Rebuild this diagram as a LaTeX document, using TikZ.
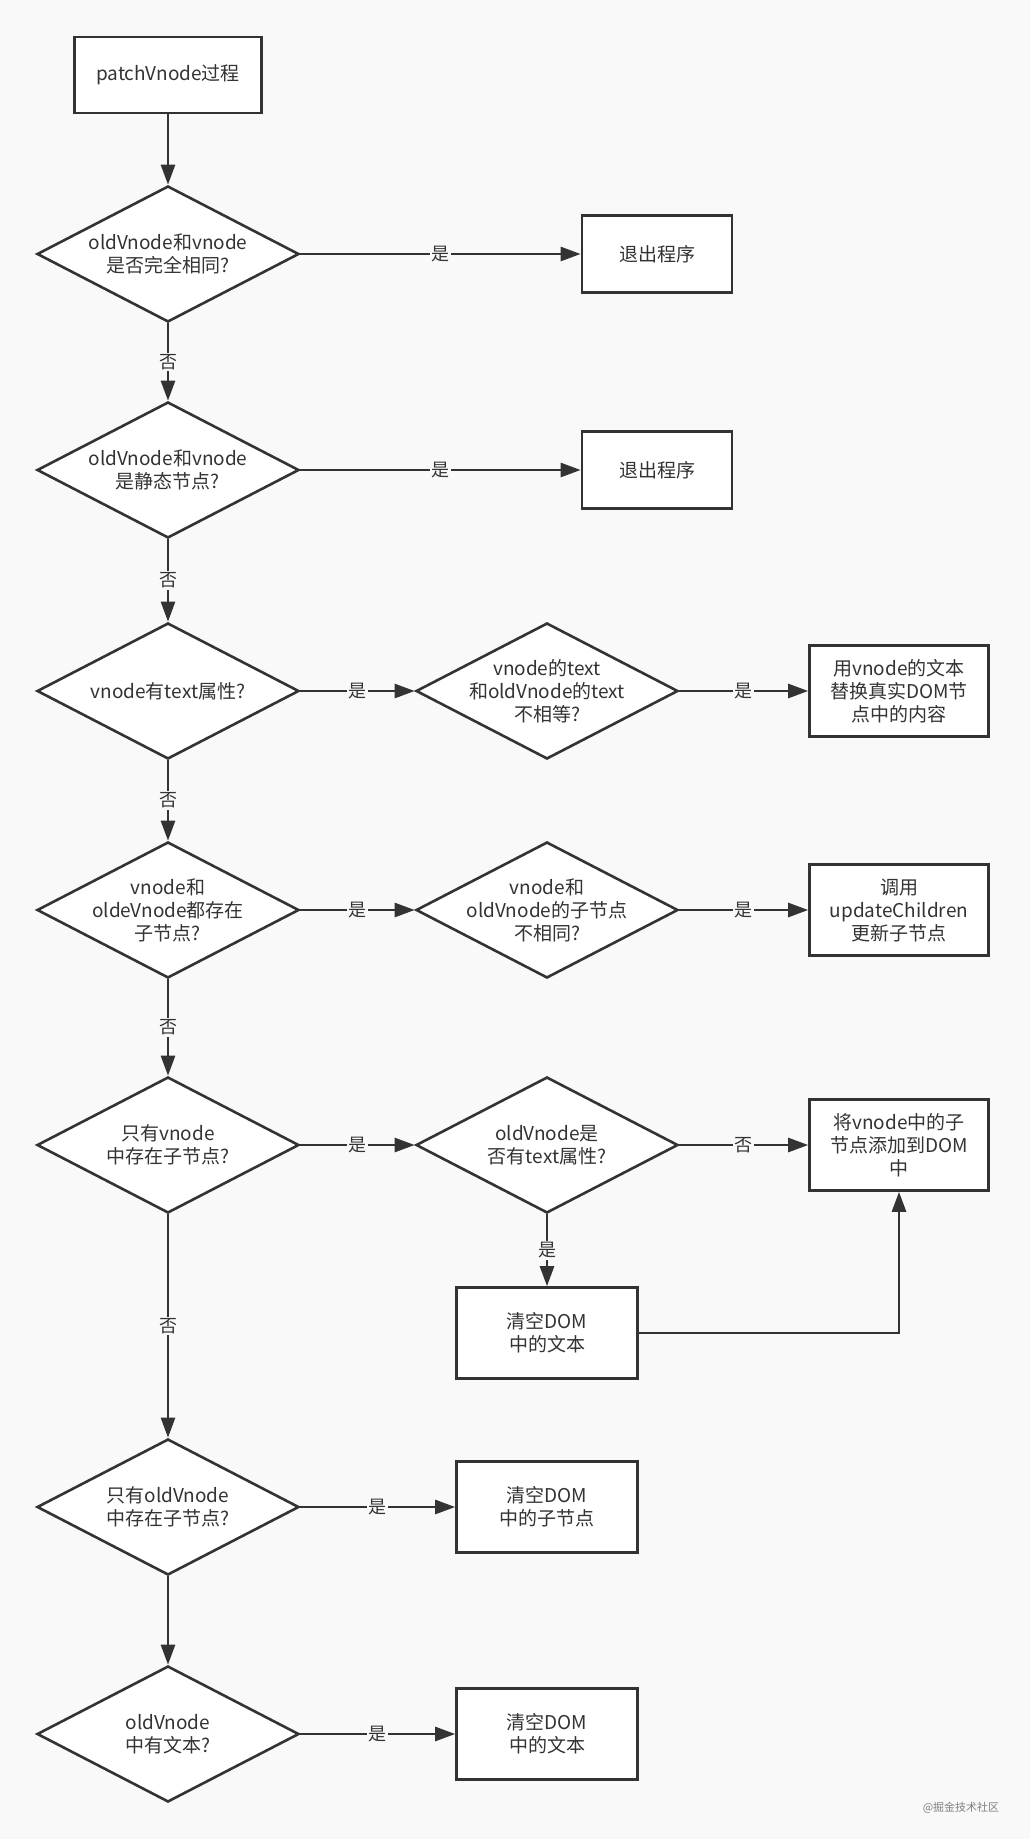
\documentclass[tikz,border=0pt]{standalone}
\usepackage{fontspec}
\setmainfont{Noto Sans CJK SC}
\usetikzlibrary{shapes.geometric,arrows.meta}
\definecolor{bgc}{HTML}{F9F9F9}
\definecolor{ink}{HTML}{333333}
\tikzset{
  base/.style={draw=ink, line width=2.6pt, fill=white, text=ink, font=\fontsize{19}{23}\selectfont, align=center},
  boxn/.style={base, rectangle, minimum width=181pt, minimum height=91pt, inner sep=0pt},
  exitn/.style={base, rectangle, minimum width=150pt, minimum height=77pt, inner sep=0pt},
  dia/.style={base, diamond, minimum width=262pt, minimum height=136pt, inner sep=0pt},
  dtext/.style={text=ink, font=\fontsize{19}{23}\selectfont, align=center, inner sep=0pt},
  arr/.style={draw=ink, line width=2.6pt, -{Triangle[length=20pt,width=14pt]}},
  lbl/.style={fill=bgc, text=ink, font=\fontsize{18}{20}\selectfont, inner sep=1.5pt}
}
\begin{document}
\begin{tikzpicture}[x=1pt,y=-1pt]
\fill[bgc] (0,0) rectangle (1030,1839);
\useasboundingbox (0,0) rectangle (1030,1839);

\node[base, rectangle, minimum width=187pt, minimum height=76pt, inner sep=0pt] (start) at (168,75) {patchVnode过程};

\node[dia] (d1) at (168,254) {};
\node[dtext] (d1t) at (d1) {oldVnode和vnode\\是否完全相同?};
\node[exitn] (ex1) at (657,254) {退出程序};

\node[dia] (d2) at (168,470) {};
\node[dtext] (d2t) at (d2) {oldVnode和vnode\\是静态节点?};
\node[exitn] (ex2) at (657,470) {退出程序};

\node[dia] (d3) at (168,691) {};
\node[dtext] (d3t) at (d3) {vnode有text属性?};
\node[dia] (d3b) at (547,691) {};
\node[dtext] (d3bt) at (d3b) {vnode的text\\和oldVnode的text\\不相等?};
\node[boxn, minimum width=179pt] (r3) at (899,691) {用vnode的文本\\替换真实DOM节\\点中的内容};

\node[dia] (d4) at (168,910) {};
\node[dtext] (d4t) at (d4) {vnode和\\oldeVnode都存在\\子节点?};
\node[dia] (d4b) at (547,910) {};
\node[dtext] (d4bt) at (d4b) {vnode和\\oldVnode的子节点\\不相同?};
\node[boxn, minimum width=179pt] (r4) at (899,910) {调用\\updateChildren\\更新子节点};

\node[dia] (d5) at (168,1145) {};
\node[dtext] (d5t) at (d5) {只有vnode\\中存在子节点?};
\node[dia] (d5b) at (547,1145) {};
\node[dtext] (d5bt) at (d5b) {oldVnode是\\否有text属性?};
\node[boxn, minimum width=179pt] (r5) at (899,1145) {将vnode中的子\\节点添加到DOM\\中};

\node[boxn] (t5) at (547,1333) {清空DOM\\中的文本};

\node[dia] (d6) at (168,1507) {};
\node[dtext] (d6t) at (d6) {只有oldVnode\\中存在子节点?};
\node[boxn] (b6) at (547,1507) {清空DOM\\中的子节点};

\node[dia] (d7) at (168,1734) {};
\node[dtext] (d7t) at (d7) {oldVnode\\中有文本?};
\node[boxn] (b7) at (547,1734) {清空DOM\\中的文本};

\node[text=gray, font=\fontsize{11}{12}\selectfont, inner sep=0pt] (wm) at (961,1808) {@掘金技术社区};

% connectors
\draw[arr] (start) -- (d1);
\draw[arr] (d1) -- node[lbl]{是} (ex1);
\draw[arr] (d1) -- node[lbl]{否} (d2);
\draw[arr] (d2) -- node[lbl]{是} (ex2);
\draw[arr] (d2) -- node[lbl]{否} (d3);
\draw[arr] (d3) -- node[lbl]{是} (d3b);
\draw[arr] (d3b) -- node[lbl]{是} (r3);
\draw[arr] (d3) -- node[lbl]{否} (d4);
\draw[arr] (d4) -- node[lbl]{是} (d4b);
\draw[arr] (d4b) -- node[lbl]{是} (r4);
\draw[arr] (d4) -- node[lbl]{否} (d5);
\draw[arr] (d5) -- node[lbl]{是} (d5b);
\draw[arr] (d5b) -- node[lbl]{否} (r5);
\draw[arr] (d5b) -- node[lbl]{是} (t5);
\draw[arr] (t5.east) -| (r5.south);
\draw[arr] (d5) -- node[lbl]{否} (d6);
\draw[arr] (d6) -- node[lbl]{是} (b6);
\draw[arr] (d6) -- (d7);
\draw[arr] (d7) -- node[lbl]{是} (b7);
\end{tikzpicture}
\end{document}
